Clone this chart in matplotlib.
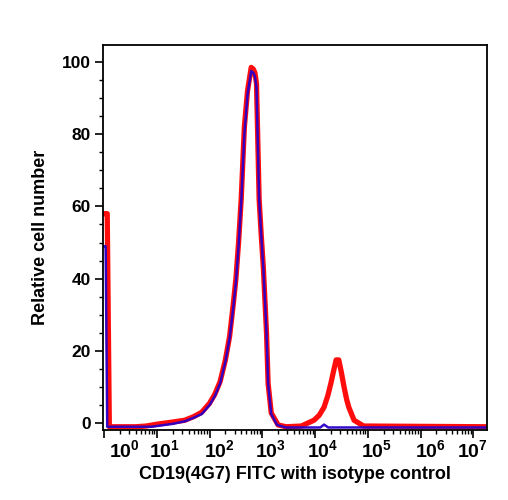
import numpy as np
import matplotlib.pyplot as plt
import matplotlib.transforms as mtransforms
from matplotlib.ticker import MultipleLocator, LogLocator, NullFormatter

plt.rcParams['font.family'] = ['Liberation Sans', 'DejaVu Sans']
plt.rcParams['font.weight'] = 'bold'
plt.rcParams['mathtext.fontset'] = 'custom'
plt.rcParams['mathtext.rm'] = 'Liberation Sans:bold'
plt.rcParams['mathtext.bf'] = 'Liberation Sans:bold'
plt.rcParams['mathtext.default'] = 'rm'

# sample (CD19 FITC) - log10 of fluorescence, relative cell number
red_log = [0.02, 0.06, 0.10, 0.6, 0.8, 1.0, 1.3, 1.53, 1.7, 1.85, 2.0, 2.1, 2.2, 2.3,
           2.38, 2.45, 2.5, 2.55, 2.6, 2.66, 2.72, 2.79, 2.83, 2.86, 2.89, 2.94, 2.98,
           3.02, 3.08, 3.11, 3.17, 3.30, 3.45, 3.74, 3.98, 4.08, 4.17, 4.24, 4.30,
           4.36, 4.40, 4.45, 4.50, 4.55, 4.60, 4.64, 4.74, 4.92, 7.26]
red_y = [58, 58, -1, -1, -0.8, -0.3, 0.3, 0.8, 1.8, 3, 5.5, 8, 11.5, 17.5,
         24, 33, 40, 50, 62, 82, 92, 98.5, 98, 97, 94, 62, 52,
         43, 25, 11, 2.8, -0.5, -1, -0.8, 0.8, 2.2, 4.4, 7.5, 11,
         15, 17.5, 17.5, 14, 10, 6.5, 4.4, 0.8, -0.8, -1]

# isotype control
blue_log = [0.005, 0.03, 0.06, 0.9, 1.0, 1.3, 1.53, 1.7, 1.85, 2.0, 2.1, 2.2, 2.3,
            2.38, 2.45, 2.5, 2.55, 2.6, 2.66, 2.72, 2.79, 2.83, 2.86, 2.89, 2.94,
            2.98, 3.02, 3.08, 3.11, 3.17, 3.28, 3.45, 4.10, 4.17, 4.25, 7.26]
blue_y = [49, 49, -1, -1, -0.8, -0.2, 0.5, 1.5, 2.5, 5, 7.5, 11, 17,
          23.5, 32, 39, 49, 61, 80, 91, 97.5, 97, 96, 93, 62,
          52, 43, 25, 11, 2.5, -0.5, -1.2, -1.2, -0.4, -1.2, -1.2]

xtick_exp = [0, 1, 2, 3, 4, 5, 6, 7]
xtick_dx = [20, 8, 10, 8, 8, 9, 10, -1]
yticks = [0, 20, 40, 60, 80, 100]

fig = plt.figure(figsize=(5.08, 5.0), dpi=100)
ax = fig.add_axes([103 / 508, 70 / 500, 384 / 508, 385 / 500])

ax.plot(10 ** np.array(red_log), red_y, color='#ff0000', lw=3.8, alpha=0.95,
        solid_joinstyle='round')
ax.plot(10 ** np.array(blue_log), blue_y, color='#2a00c8', lw=1.8, alpha=0.95,
        solid_joinstyle='round')

ax.set_xscale('log')
ax.set_xlim(10 ** -0.02, 10 ** 7.26)
ax.set_ylim(-1.9, 104.7)

ax.set_xticks([10.0 ** e for e in xtick_exp])
ax.set_xticklabels([])
ax.xaxis.set_minor_locator(LogLocator(base=10, subs=np.arange(2, 10), numticks=20))
ax.xaxis.set_minor_formatter(NullFormatter())
# x tick labels drawn as text, shifted like in the original
trans = ax.get_xaxis_transform()
for e, dx in zip(xtick_exp, xtick_dx):
    off = mtransforms.ScaledTranslation(dx / 100, -0.095, fig.dpi_scale_trans)
    ax.text(10.0 ** e, 0, r'$10^{%d}$' % e, transform=trans + off,
            ha='center', va='top', fontsize=14)

ax.set_yticks(yticks)
ax.set_yticklabels([str(v) for v in yticks], fontsize=12.5, fontweight='bold')
ax.yaxis.set_minor_locator(MultipleLocator(5))

ax.tick_params(axis='both', which='major', direction='out', length=6, width=1.2,
               pad=3, top=False, right=False)
ax.tick_params(axis='both', which='minor', direction='out', length=3, width=1.0,
               top=False, right=False)

for s in ax.spines.values():
    s.set_linewidth(1.3)

ax.set_xlabel('CD19(4G7) FITC with isotype control', fontsize=13,
              fontweight='bold', labelpad=17)
ax.set_ylabel('Relative cell number', fontsize=13, fontweight='bold', labelpad=9)

fig.savefig('out.png', dpi=100)
